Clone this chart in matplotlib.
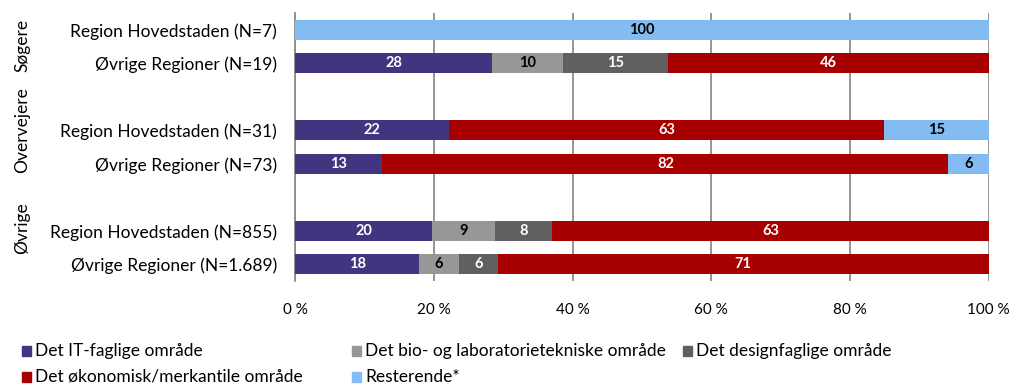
import matplotlib.pyplot as plt
from matplotlib.patches import Rectangle
import numpy as np

plt.rcParams['font.family'] = ['Lato', 'DejaVu Sans']

# rows top to bottom
rows = ['Region Hovedstaden (N=7)', 'Øvrige Regioner (N=19)',
        'Region Hovedstaden (N=31)', 'Øvrige Regioner (N=73)',
        'Region Hovedstaden (N=855)', 'Øvrige Regioner (N=1.689)']
groups = ['Søgere', 'Overvejere', 'Øvrige']

categories = ['Det IT-faglige område', 'Det bio- og laboratorietekniske område',
              'Det designfaglige område', 'Det økonomisk/merkantile område',
              'Resterende*']
it_share = [0, 28.4, 22.2, 12.6, 19.8, 17.9]
bio_share = [0, 10.2, 0, 0, 9.0, 5.7]
design_share = [0, 15.1, 0, 0, 8.3, 5.6]
econ_share = [0, 46.3, 62.7, 81.6, 62.9, 70.8]
rest_share = [100, 0, 15.1, 5.8, 0, 0]

colors = ['#41357f', '#979797', '#606060', '#a80000', '#83bcf3']
label_colors = ['white', 'black', 'white', 'white', 'black']

xticks = [0, 20, 40, 60, 80, 100]
xticklabels = ['0 %', '20 %', '40 %', '60 %', '80 %', '100 %']

# group gaps: two rows, blank row, two rows ...
ypos = np.array([0, 1, 3, 4, 6, 7])

fig = plt.figure(figsize=(10.14, 3.87), dpi=100)
ax = fig.add_axes([0.291, 0.274, 0.684, 0.692])

series = [it_share, bio_share, design_share, econ_share, rest_share]
left = np.zeros(len(rows))
for vals, col, tcol in zip(series, colors, label_colors):
    vals = np.array(vals, dtype=float)
    ax.barh(ypos, vals, left=left, height=0.6, color=col, zorder=3)
    for y, l, v in zip(ypos, left, vals):
        if v > 0:
            ax.text(l + v / 2, y, f'{v:.0f}', ha='center', va='center',
                    color=tcol, fontsize=10.5, fontweight='bold', zorder=4)
    left += vals

ax.set_xlim(0, 100)
ax.set_ylim(7.5, -0.5)
ax.set_yticks(ypos)
ax.set_yticklabels(rows, fontsize=12.5)
ax.set_xticks(xticks)
ax.set_xticklabels(xticklabels, fontsize=11)
ax.tick_params(axis='y', length=0, pad=13)
ax.tick_params(axis='x', length=0, pad=16)
ax.xaxis.grid(True, color='#8c8c8c', linewidth=1.3, zorder=0)
for s in ['top', 'right', 'bottom']:
    ax.spines[s].set_visible(False)
ax.spines['left'].set_color('#8c8c8c')
ax.spines['left'].set_linewidth(1.3)

# group titles on the left
for name, yc in zip(groups, [0.47, 2.99, 5.92]):
    ax.text(-0.393, yc, name, transform=ax.get_yaxis_transform(),
            rotation=90, ha='center', va='center', fontsize=12.5)

# legend laid out in two rows
legend_pos = [(22, 351), (352, 351), (683, 351), (22, 377), (352, 377)]
W, H = 1014, 387
for (px, py), col, name in zip(legend_pos, colors, categories):
    fig.add_artist(Rectangle((px / W, 1 - (py + 5) / H), 9 / W, 10 / H,
                             transform=fig.transFigure, color=col))
    fig.text((px + 13) / W, 1 - py / H, name, ha='left', va='center',
             fontsize=12.5)

plt.savefig('out.png', dpi=100)
